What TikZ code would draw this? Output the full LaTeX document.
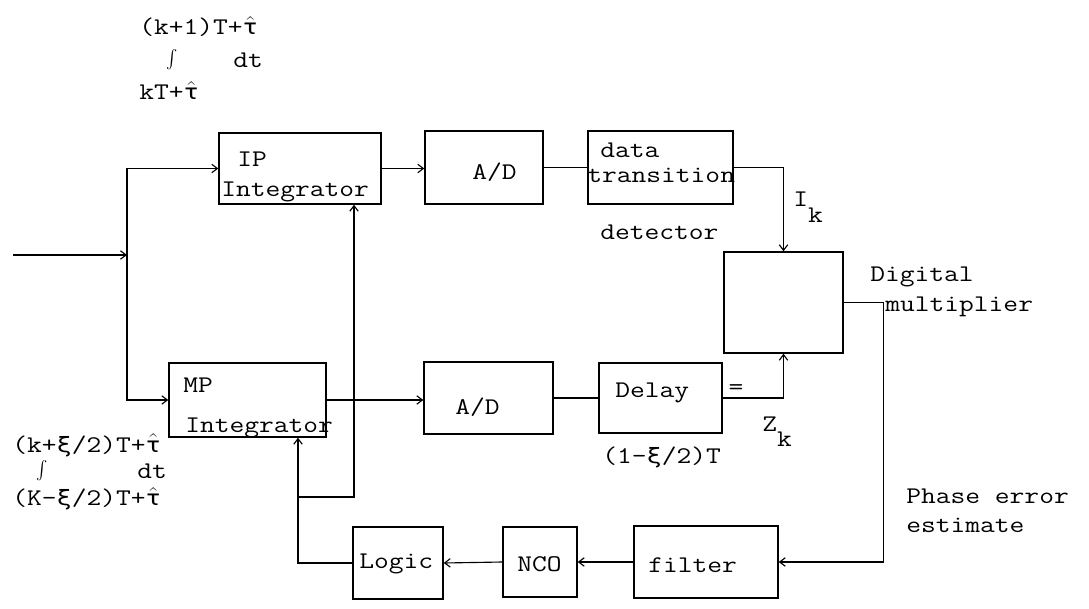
\documentclass[tikz,border=0pt]{standalone}
\usepackage{fontspec}
\usepackage{graphicx}
\usetikzlibrary{arrows.meta,fit}
\newfontfamily\gkfont{DejaVu Sans Mono}
\newcommand{\tw}[1]{\scalebox{1.2}[1]{#1}}
\newcommand{\intg}{\scalebox{1}[1.3]{$\int$}}
\newcommand{\tauh}{$\hat{\mbox{\gkfont\fontsize{15}{18}\selectfont τ}}$}
\newcommand{\xig}{{\gkfont\fontsize{15}{18}\selectfont ξ}}
\tikzset{
  box/.style={draw, line width=1pt, inner sep=0pt},
  lbl/.style={inner sep=0pt, anchor=base west, font=\ttfamily\fontsize{17}{20}\selectfont},
  lblc/.style={inner sep=0pt, anchor=center, font=\ttfamily\fontsize{17}{20}\selectfont},
  conn/.style={line width=0.8pt},
  arr/.style={conn, -{Straight Barb[length=4pt,width=6pt]}},
}
\begin{document}
\begin{tikzpicture}[x=0.025cm, y=-0.025cm]
\useasboundingbox (0,0) rectangle (1089,609);
% boxes
\node[box, fit={(219,133) (381,204)}] (ip) {};
\node[box, fit={(169,363) (326,437)}] (mp) {};
\node[box, fit={(425,131) (543,204)}] (adu) {};
\node[box, fit={(424,362) (553,434)}] (adl) {};
\node[box, fit={(588,131) (733,204)}] (dt) {};
\node[box, fit={(599,363) (722,433)}] (delay) {};
\node[box, fit={(724,252) (843,353)}] (mult) {};
\node[box, fit={(353,527) (443,599)}] (logic) {};
\node[box, fit={(503,527) (577,597)}] (nco) {};
\node[box, fit={(634,526) (778,598)}] (filter) {};
% texts
\node[lbl] (ipt1) at (237,167) {\tw{IP}};
\node[lbl] (ipt2) at (221,197) {\tw{Integrator}};
\node[lbl] (mpt1) at (183,392) {\tw{MP}};
\node[lbl] (mpt2) at (185,432) {\tw{Integrator}};
\node[lbl] (adut) at (472,180) {\tw{A/D}};
\node[lbl] (adlt) at (455,414) {\tw{A/D}};
\node[lbl] (dtt1) at (600,158) {\tw{data}};
\node[lbl] (dtt2) at (587,183) {\tw{transition}};
\node[lbl] (dtt3) at (600,240) {\tw{detector}};
\node[lbl] (ik) at (793,207) {\tw{I\raisebox{-11pt}{k}}};
\node[lbl] (delt) at (615,397) {\tw{Delay}};
\node[lbl] (delt2) at (602,463) {\tw{(1-\xig/2)T}};
\node[lblc] (eq) at (736,390) {\tw{=}};
\node[lbl] (zk) at (762,431) {\tw{Z\raisebox{-11pt}{k}}};
\node[lbl] (dm1) at (870,282) {\tw{Digital}};
\node[lbl] (dm2) at (885,312) {\tw{multiplier}};
\node[lbl] (pe1) at (906,503) {\tw{Phase error}};
\node[lbl] (pe2) at (906,532) {\tw{estimate}};
\node[lbl] (logt) at (359,568) {\tw{Logic}};
\node[lbl] (ncot) at (517,571) {\tw{NCO}};
\node[lbl] (filt) at (648,572) {\tw{filter}};
% integral labels
\node[lbl] (ia) at (139,35) {\begin{tabular}[t]{@{}l@{}}
  \tw{(k+1)T+\tauh}\\[2.8pt]
  \tw{\makebox[0pt][l]{\hspace*{16pt}\intg}\hspace*{55.7pt}dt}\\[2.8pt]
  \tw{kT+\tauh}
\end{tabular}};
\node[lbl, font=\ttfamily\fontsize{17}{18.9}\selectfont] (ib) at (12,452) {\begin{tabular}[t]{@{}l@{}}
  \tw{(k+\xig/2)T+\tauh}\\
  \tw{\makebox[0pt][l]{\hspace*{14.2pt}\intg}\hspace*{74.1pt}dt}\\
  \tw{(K-\xig/2)T+\tauh}
\end{tabular}};
% connectors
\coordinate (inp) at (13,255);
\coordinate (split) at (127,255);
\coordinate (fbx) at (298,497);
\coordinate (ipfb) at (354,497);
\draw[arr] (inp) -- (split);
\draw[arr] (split) |- (ip.west);
\draw[arr] (split) |- (mp.west);
\draw[arr] (ip.east) -- (adu.west |- ip.east);
\draw[conn] (adu.east) -- (dt.west |- adu.east);
\draw[arr] (dt.east) -| (mult.north);
\draw[arr] (mp.east) -- (adl.west |- mp.east);
\draw[conn] (adl.east) -- (delay.west |- adl.east);
\draw[arr] (delay.east) -| (mult.south);
\draw[arr] (mult.east) -- ++(40,0) |- (filter.east);
\draw[arr] (filter.west) -- (nco.east);
\draw[arr] (nco.west) -- (logic.east);
\draw[arr] (logic.west) -| (fbx) -- (fbx |- mp.south);
\draw[arr] (fbx) -- (ipfb) -- (ipfb |- ip.south);
\end{tikzpicture}
\end{document}
